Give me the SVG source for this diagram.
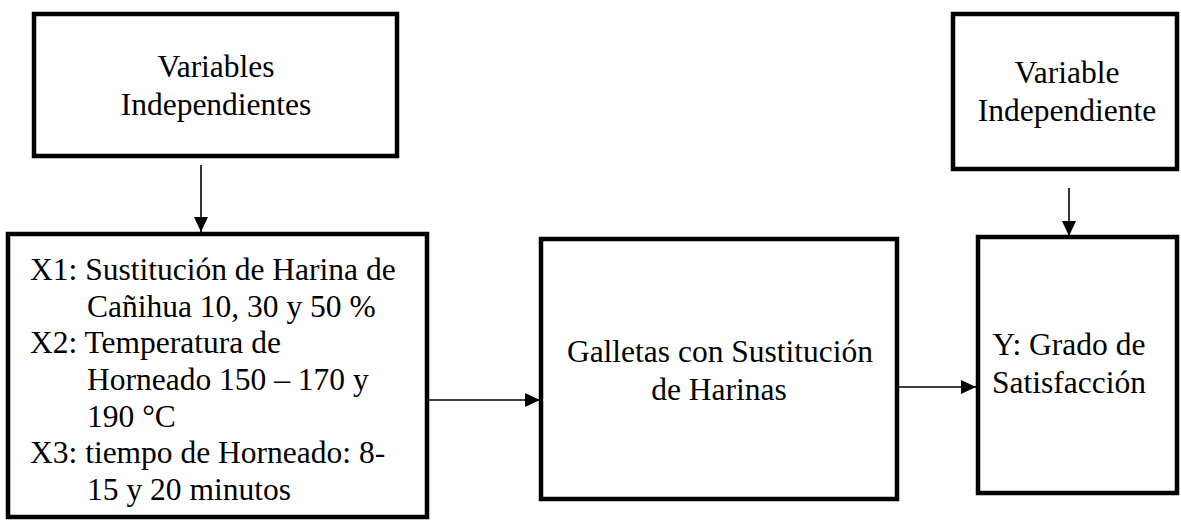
<svg xmlns="http://www.w3.org/2000/svg" width="1181" height="520" viewBox="0 0 1181 520">
<style>
.box{fill:#fff;stroke:#000;stroke-width:4.5}
.t{font-family:"Liberation Serif","Times New Roman",serif;font-size:31.5px;fill:#000}
.c{text-anchor:middle}
.conn{stroke:#000;stroke-width:1.6;fill:none;marker-end:url(#ah)}
</style>
<defs>
<marker id="ah" markerUnits="userSpaceOnUse" viewBox="0 0 15 14" markerWidth="15" markerHeight="14" refX="15" refY="7" orient="auto">
<path d="M0,0 L15,7 L0,14 Z" fill="#000"/>
</marker>
</defs>
<rect width="1181" height="520" fill="#fff"/>
<g id="connectors">
<line class="conn" x1="201" y1="165" x2="201" y2="232"/>
<line class="conn" x1="1069" y1="188" x2="1069" y2="236"/>
<line class="conn" x1="427" y1="400" x2="540" y2="400"/>
<line class="conn" x1="897" y1="387" x2="976" y2="387"/>
</g>
<g id="node-vars-indep">
<rect class="box" x="34" y="14" width="363" height="142"/>
<text class="t c" x="216" y="77">Variables</text>
<text class="t c" x="216" y="115">Independientes</text>
</g>
<g id="node-factors">
<rect class="box" x="8" y="234" width="419" height="283"/>
<text class="t" x="30" y="280">X1: Sustitución de Harina de</text>
<text class="t" x="87" y="317">Cañihua 10, 30 y 50 %</text>
<text class="t" x="30" y="353">X2: Temperatura de</text>
<text class="t" x="87" y="390">Horneado 150 – 170 y</text>
<text class="t" x="87" y="427">190 °C</text>
<text class="t" x="30" y="463">X3: tiempo de Horneado: 8-</text>
<text class="t" x="87" y="500">15 y 20 minutos</text>
</g>
<g id="node-galletas">
<rect class="box" x="541" y="239" width="356" height="260"/>
<text class="t c" x="720" y="362">Galletas con Sustitución</text>
<text class="t c" x="719" y="400">de Harinas</text>
</g>
<g id="node-var-indep">
<rect class="box" x="953" y="14" width="224" height="155"/>
<text class="t c" x="1067" y="83">Variable</text>
<text class="t c" x="1067" y="121">Independiente</text>
</g>
<g id="node-y">
<rect class="box" x="978" y="237" width="199" height="256"/>
<text class="t c" x="1069" y="355">Y: Grado de</text>
<text class="t c" x="1069" y="393">Satisfacción</text>
</g>
</svg>
